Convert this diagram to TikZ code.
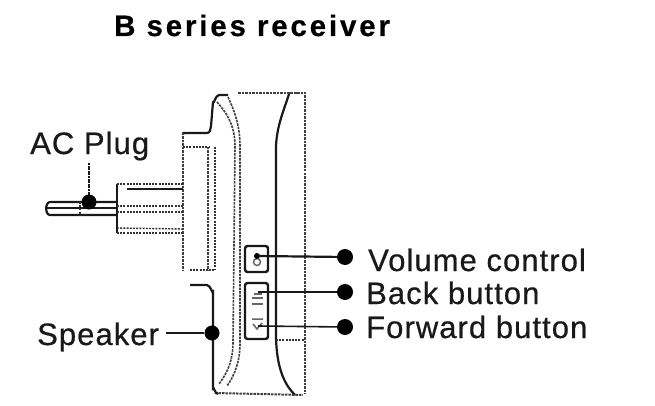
\documentclass[tikz,border=0pt]{standalone}
\usepackage{fontspec}
\setmainfont{Liberation Sans}
\newfontfamily\lblfont[LetterSpace=3.4,FakeBold=0.6]{Liberation Sans}
\newfontfamily\ttlfont[LetterSpace=9.6,FakeBold=0.4]{Liberation Sans Bold}
\begin{document}
\begin{tikzpicture}[x=1pt,y=-1pt,
  solidl/.style={line width=2.2pt,black!90},
  dotl/.style={line width=1.6pt,black!75,dash pattern=on 2.5pt off 1pt},
  thinl/.style={line width=1.4pt,black!80,dash pattern=on 2pt off 1.2pt},
  leader/.style={line width=1.6pt,black!90},
  blob/.style={circle,fill=black,inner sep=0pt,minimum size=#1},
  lbl/.style={inner sep=0pt,anchor=base west,font=\lblfont\fontsize{31}{31}\selectfont,text=black!90}]
\useasboundingbox (0,0) rectangle (655,406);
\node[inner sep=0pt,anchor=base west,font=\ttlfont\fontsize{29.5}{30}\selectfont] (title) at (114,36) {B series receiver};
% housing
\draw[solidl,line join=round] (183,135) -- (183,133) -- (207,133) to[out=0,in=-100] (211,126) -- (213,102) to[out=-80,in=180] (219,95) -- (228,95);
\draw[dotl] (238,93) -- (300,93);
\draw[dotl,line width=2.2pt] (290,93) -- (305,93) -- (305,394);
\draw[solidl] (289,94) .. controls (284,110) and (277,125) .. (276,146) -- (276,338);
\draw[solidl] (276,338) .. controls (277,370) and (285,385) .. (295,395);
\draw[thinl] (276,340) -- (304,340);
\draw[dotl,line width=2pt] (215,393) -- (303,395);
\draw[solidl] (190,285) -- (207,285) to[out=0,in=-90] (213,292) -- (213,388) to[out=90,in=180] (218,394);
% inner front contour
\draw[dotl] (217,102) .. controls (226,112) and (235,125) .. (235,146) -- (233,342) .. controls (233,360) and (228,372) .. (219,384);
\draw[dotl] (228,97) .. controls (234,110) and (240,125) .. (240,146) -- (240,345) .. controls (240,360) and (235,375) .. (227,386);
% left block
\draw[dotl] (183,133) -- (183,270);
\draw[thinl] (183,147) -- (210,147);
\draw[dotl] (208,147) -- (208,270);
\draw[thinl] (215,147) -- (215,270);
\draw[thinl] (190,270) -- (215,270);
% plug body
\draw[solidl] (117,184) -- (117,233);
\draw[thinl] (117,184) -- (183,184);
\draw[solidl] (127,189) -- (183,189);
\draw[thinl] (117,206) -- (183,206);
\draw[thinl] (117,212) -- (183,212);
\draw[thinl] (117,228) -- (183,229);
\draw[thinl] (117,233) -- (183,233);
% pin
\draw[solidl] (117,202) -- (50,202) to[out=180,in=180] (50,215) -- (117,215);
\draw[solidl] (47,208) -- (117,208);
\draw[thinl] (80,202) -- (80,215);
% button boxes
\draw[line width=2.4pt,black!90,rounded corners=2.5pt] (245,246) rectangle (268,272);
\draw[line width=2.4pt,black!90,rounded corners=2.5pt] (245,283) rectangle (268,339);
\draw[line width=1.5pt,black!60] (257,262) circle (3.5);
\draw[line width=1.5pt,black!60] (252,298) -- (263,298) (252,304) -- (263,304) (254,294) -- (262,294);
\draw[line width=1.5pt,black!60] (252,319) -- (263,319) (253,324) -- (257,329) -- (262,323);
% callouts
\node[blob=15pt] (acdot) at (89,202) {};
\node[blob=16pt] (voldot) at (345,257) {};
\node[blob=16pt] (backdot) at (345,292) {};
\node[blob=16pt] (fwddot) at (345,327) {};
\node[blob=15pt] (spkdot) at (212,333) {};
\node[blob=6pt] (volin) at (257,256) {};
\coordinate (backin) at (258,292);
\coordinate (fwdin) at (258,326);
\coordinate (acend) at (89,163);
\coordinate (spkend) at (166,333);
\draw[leader,line width=2.2pt] (volin) -- (voldot);
\draw[leader] (backin) -- (backdot);
\draw[leader] (fwdin) -- (fwddot);
\draw[leader,dash pattern=on 2pt off .6pt] (acend) -- (acdot);
\draw[leader] (spkend) -- (spkdot);
% labels
\node[lbl] (ac) at (30,154) {AC Plug};
\node[lbl] (spk) at (37,345) {Speaker};
\node[lbl] (vol) at (368,271) {Volume control};
\node[lbl] (back) at (366,304) {Back button};
\node[lbl] (fwd) at (366,338) {Forward button};
\end{tikzpicture}
\end{document}
